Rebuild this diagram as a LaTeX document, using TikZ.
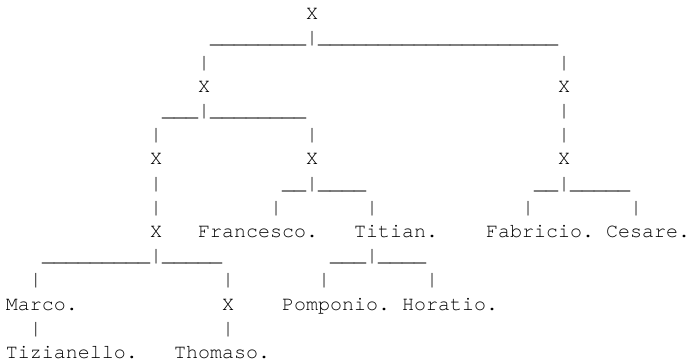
\documentclass[tikz,border=0pt]{standalone}
\usepackage{fontspec}
\setmonofont{TeX Gyre Cursor}
\tikzset{tt/.style={font=\ttfamily\fontsize{15pt}{18pt}\selectfont, anchor=base west, inner sep=0pt, outer sep=0pt}}
\newcommand\tok[4]{\node[tt] (#1) at ({6+12*(#2)},{19.7+24.2*(#3)}) {\detokenize{#4}};}
\begin{document}
\begin{tikzpicture}[x=0.75pt,y=-0.75pt]
\useasboundingbox (0,0) rectangle (697,364);
\tok{a0}{25}{0}{X}
\tok{a1}{17}{1}{________|____________________}
\tok{a2}{16}{2}{|}\tok{b2}{46}{2}{|}
\tok{a3}{16}{3}{X}\tok{b3}{46}{3}{X}
\tok{a4}{13}{4}{___|________}\tok{b4}{46}{4}{|}
\tok{a5}{12}{5}{|}\tok{b5}{25}{5}{|}\tok{c5}{46}{5}{|}
\tok{a6}{12}{6}{X}\tok{b6}{25}{6}{X}\tok{c6}{46}{6}{X}
\tok{a7}{12}{7}{|}\tok{b7}{23}{7}{__|____}\tok{c7}{44}{7}{__|_____}
\tok{a8}{12}{8}{|}\tok{b8}{22}{8}{|}\tok{c8}{30}{8}{|}\tok{d8}{43}{8}{|}\tok{e8}{52}{8}{|}
\tok{a9}{12}{9}{X}\tok{b9}{16}{9}{Francesco.}\tok{c9}{29}{9}{Titian.}\tok{d9}{40}{9}{Fabricio.}\tok{e9}{50}{9}{Cesare.}
\tok{a10}{3}{10}{_________|_____}\tok{b10}{27}{10}{___|____}
\tok{a11}{2}{11}{|}\tok{b11}{18}{11}{|}\tok{c11}{26}{11}{|}\tok{d11}{35}{11}{|}
\tok{a12}{0}{12}{Marco.}\tok{b12}{18}{12}{X}\tok{c12}{23}{12}{Pomponio.}\tok{d12}{33}{12}{Horatio.}
\tok{a13}{2}{13}{|}\tok{b13}{18}{13}{|}
\tok{a14}{0}{14}{Tizianello.}\tok{b14}{14}{14}{Thomaso.}
\end{tikzpicture}
\end{document}
